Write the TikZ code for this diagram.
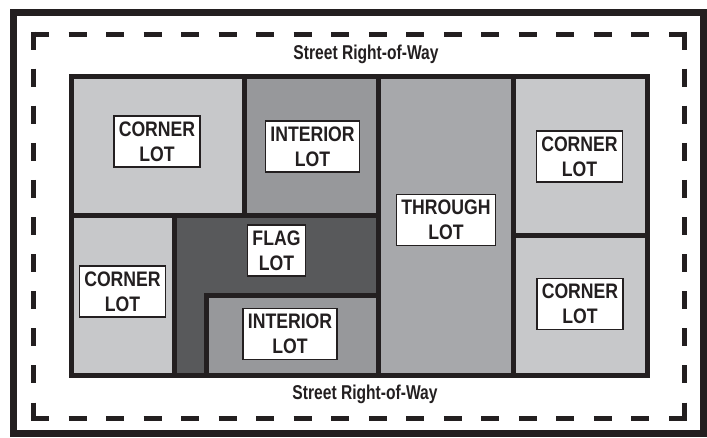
\documentclass[tikz,border=0pt]{standalone}
\usepackage{fontspec}
\newfontfamily\lotfont[FakeStretch=0.84]{Liberation Sans}
\newfontfamily\streetfont[FakeStretch=0.78]{Liberation Sans}
\usetikzlibrary{positioning}
\definecolor{lineblack}{HTML}{231F20}
\definecolor{cornergray}{HTML}{C7C8CA}
\definecolor{interiorgray}{HTML}{97989B}
\definecolor{throughgray}{HTML}{A7A8AB}
\definecolor{flaggray}{HTML}{58595B}

\begin{document}
\begin{tikzpicture}[x=1pt, y=-1pt]
    % Define styles
    \tikzstyle{frame_line}=[line width=7pt, color=lineblack]
    \tikzstyle{row_line}=[line width=5pt, color=lineblack]
    \tikzstyle{lot_line}=[line width=5pt, color=lineblack, line cap=rect]
    \tikzstyle{lot_label}=[draw=lineblack, fill=white, line width=1.5pt, align=center, inner xsep=5pt, inner ysep=0pt, minimum height=51pt, text=lineblack, font=\lotfont\bfseries\fontsize{21}{25}\selectfont]
    \tikzstyle{street_text}=[anchor=base, text=lineblack, font=\streetfont\bfseries\fontsize{20}{24}\selectfont]

    \useasboundingbox (0,0) rectangle (707,437);

    % --- 1. Outer frame and street right-of-way ---
    \draw[frame_line] (13,12.5) rectangle (703.5,433.5);

    % dashed right-of-way line, one side at a time so every corner gets a dash
    \draw[row_line, dash pattern=on 18pt off 19.53pt] (31,34) -- (687,34);
    \draw[row_line, dash pattern=on 18pt off 19.53pt] (31,418) -- (687,418);
    \draw[row_line, dash pattern=on 18pt off 19.1pt] (33.5,31.5) -- (33.5,420.5);
    \draw[row_line, dash pattern=on 18pt off 19.1pt] (684.5,31.5) -- (684.5,420.5);

    \node[street_text] (row_top) at (366,59.5) {Street Right-of-Way};
    \node[street_text] (row_bottom) at (365,399) {Street Right-of-Way};

    % --- 2. Lot fills ---
    \fill[cornergray] (71.5,76.5) rectangle (244.5,215.5);
    \fill[interiorgray] (244.5,76.5) rectangle (378.5,215.5);
    \fill[throughgray] (378.5,76.5) rectangle (513.5,375.5);
    \fill[cornergray] (513.5,76.5) rectangle (647.5,235.5);
    \fill[cornergray] (513.5,235.5) rectangle (647.5,375.5);
    \fill[cornergray] (71.5,215.5) rectangle (174.5,375.5);
    \fill[flaggray] (174.5,215.5) -- (378.5,215.5) -- (378.5,295.5) -- (206.5,295.5) -- (206.5,375.5) -- (174.5,375.5) -- cycle;
    \fill[interiorgray] (206.5,295.5) rectangle (378.5,375.5);

    % --- 3. Lot lines ---
    \draw[lot_line] (71.5,76.5) rectangle (647.5,375.5);
    \draw[lot_line] (244.5,76.5) -- (244.5,215.5);
    \draw[lot_line] (378.5,76.5) -- (378.5,375.5);
    \draw[lot_line] (513.5,76.5) -- (513.5,375.5);
    \draw[lot_line] (71.5,215.5) -- (378.5,215.5);
    \draw[lot_line] (513.5,235.5) -- (647.5,235.5);
    \draw[lot_line] (174.5,215.5) -- (174.5,375.5);
    \draw[lot_line] (206.5,375.5) |- (378.5,295.5);

    % --- 4. Lot labels ---
    \node[lot_label] (corner_nw) at (157,141.5) {CORNER\\LOT};
    \node[lot_label] (interior_top) at (312.5,146.5) {INTERIOR\\LOT};
    \node[lot_label] (through) at (446,220) {THROUGH\\LOT};
    \node[lot_label] (corner_ne) at (579.5,156.5) {CORNER\\LOT};
    \node[lot_label] (corner_sw) at (122.5,291.5) {CORNER\\LOT};
    \node[lot_label] (flag) at (276.5,250.5) {FLAG\\LOT};
    \node[lot_label] (interior_bottom) at (290,334) {INTERIOR\\LOT};
    \node[lot_label] (corner_se) at (580,304) {CORNER\\LOT};

\end{tikzpicture}
\end{document}
